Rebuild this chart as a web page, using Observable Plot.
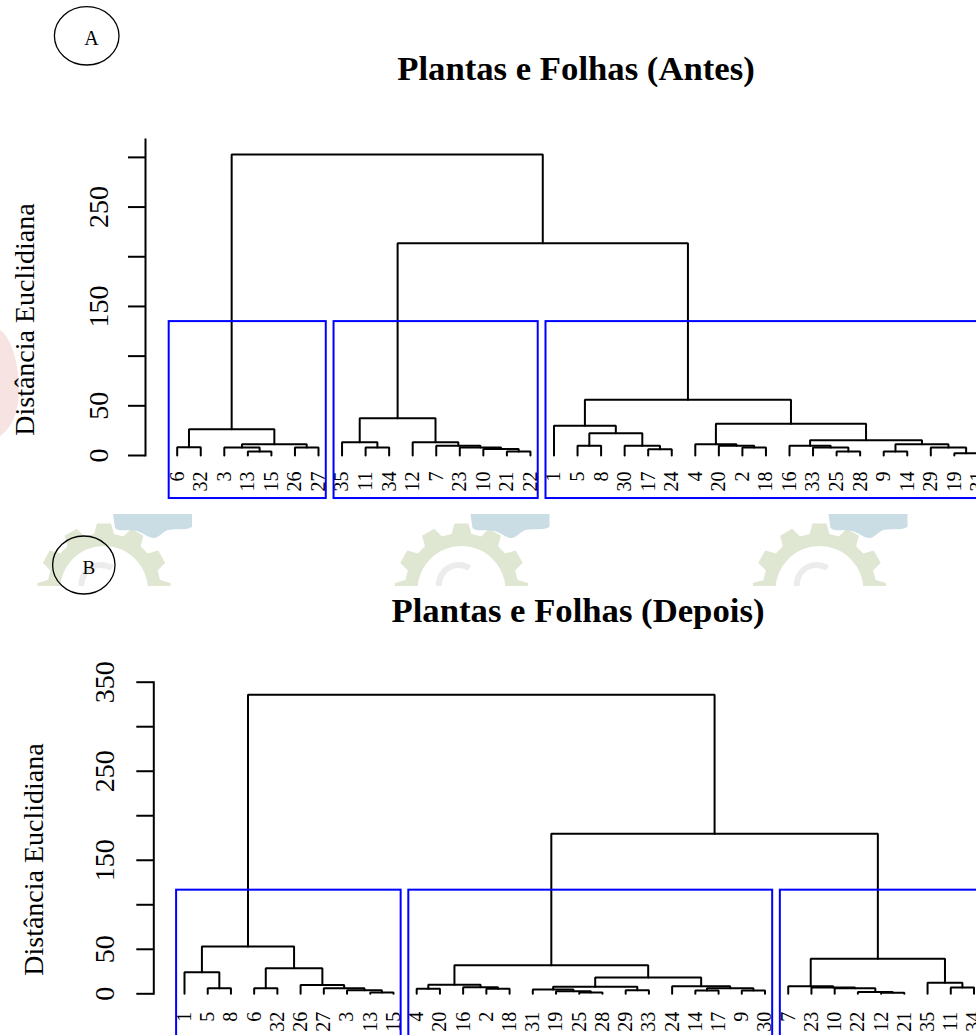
<!DOCTYPE html>
<html>
<head>
<meta charset="utf-8">
<script src="https://cdn.jsdelivr.net/npm/d3@7"></script>
<script src="https://cdn.jsdelivr.net/npm/@observablehq/plot@0.6"></script>
<style>
html, body { margin: 0; padding: 0; background: #ffffff; }
#page { position: relative; width: 976px; height: 1035px; overflow: hidden; font-family: "Liberation Serif", "Times New Roman", serif; color: #000; }
.layer { position: absolute; left: 0; }
</style>
</head>
<body>
<div id="page"></div>
<script>
// ---------------- DATA ----------------
const titleA = "Plantas e Folhas (Antes)";
const titleB = "Plantas e Folhas (Depois)";
const yLabel = "Distância Euclidiana";
const panelTagA = "A";
const panelTagB = "B";

// leaf order (x-axis labels) of each dendrogram
const leafOrderA = [6, 32, 3, 13, 15, 26, 27, 35, 11, 34, 12, 7, 23, 10, 21, 22,
  1, 5, 8, 30, 17, 24, 4, 20, 2, 18, 16, 33, 25, 28, 9, 14, 29, 19, 31];
const leafOrderB = [1, 5, 8, 6, 32, 26, 27, 3, 13, 15, 4, 20, 16, 2, 18, 31, 19, 25, 28, 29, 33,
  24, 14, 17, 9, 30, 7, 23, 10, 22, 12, 21, 35, 11, 34];

// merges (R hclust style): negative = observation, positive = earlier merge row; third = height
const mergesA = [
  [-13, -15, 4.0], [-6, -32, 8.4], [-3, 1, 8.1], [-26, -27, 8.1], [3, 4, 11.4], [2, 5, 26.5],
  [-21, -22, 4.0], [-10, 7, 6.5], [-23, 8, 8.1], [-7, 9, 9.7], [-12, 10, 13.4],
  [-11, -34, 8.1], [-35, 12, 13.4], [13, 11, 37.6],
  [-5, -8, 9.7], [-17, -24, 6.4], [-30, 16, 9.7], [15, 17, 22.5], [-1, 18, 29.9],
  [-2, -18, 8.1], [-20, 20, 9.9], [-4, 21, 11.4],
  [-25, -28, 4.0], [-33, 23, 8.1], [-16, 24, 9.7],
  [-9, -14, 4.0], [-19, -31, 2.3], [-29, 27, 8.1], [26, 28, 11.4], [25, 29, 15.4],
  [22, 30, 31.9], [19, 31, 56.0], [14, 32, 213.5], [6, 33, 303.0]
];
const mergesB = [
  [-5, -8, 6.3], [-1, 1, 24.3], [-6, -32, 6.3], [-13, -15, 1.5], [-3, 4, 3.9], [-27, 5, 6.3],
  [-26, 6, 10.0], [3, 7, 28.8], [2, 8, 53.0],
  [-4, -20, 5.6], [-2, -18, 5.6], [-16, 11, 7.4], [10, 12, 10.1],
  [-25, -28, 1.5], [-19, 14, 3.0], [-31, 15, 4.8], [-29, -33, 4.0], [16, 17, 8.0],
  [-14, -17, 3.7], [-9, -30, 3.7], [19, 20, 6.3], [-24, 21, 8.5], [18, 22, 18.4], [13, 23, 32.2],
  [-12, -21, 1.1], [-22, 25, 1.9], [-10, 26, 6.3], [-23, 27, 7.1], [-7, 28, 8.5],
  [-11, -34, 7.1], [-35, 30, 12.3], [29, 31, 39.3], [24, 32, 179.8], [9, 33, 336.0]
];

// number of clusters boxed (rect.hclust k)
const kClusters = 3;

// y-axis ticks and which ones carry a label
const ticksA = [0, 50, 100, 150, 200, 250, 300];
const tickLabelsA = [0, 50, 150, 250];
const ticksB = [0, 50, 100, 150, 200, 250, 300, 350];
const tickLabelsB = [0, 50, 150, 250, 350];

// ---------------- BUILD ----------------
function dendro(merges, leafOrder, k) {
  const pos = new Map(leafOrder.map((d, i) => [d, i + 1]));
  const nodes = [];
  const pts = [];
  const get = c => c < 0 ? {x: pos.get(-c), h: 0, leaves: [-c]} : nodes[c - 1];
  merges.forEach(([a, b, h], i) => {
    const A = get(a), B = get(b);
    nodes.push({x: (A.x + B.x) / 2, h, leaves: A.leaves.concat(B.leaves), a, b});
    pts.push({id: i, x: A.x, h: A.h}, {id: i, x: A.x, h}, {id: i, x: B.x, h}, {id: i, x: B.x, h: B.h});
  });
  const hs = merges.map(m => m[2]).sort((p, q) => q - p);
  const cut = (hs[k - 2] + hs[k - 1]) / 2;
  const clusters = [];
  const walk = c => {
    if (c < 0) { clusters.push([-c]); return; }
    const N = nodes[c - 1];
    if (N.h < cut) clusters.push(N.leaves); else { walk(N.a); walk(N.b); }
  };
  walk(merges.length);
  const boxes = clusters.map(L => {
    const ps = L.map(l => pos.get(l));
    return {x1: d3.min(ps) - 0.34, x2: d3.max(ps) + 0.33, top: cut};
  });
  return {pts, boxes};
}

function panel(cfg) {
  const {merges, leafOrder, ticks, tickLabels, yMax, boxBottom, height, marginTop, marginBottom,
         marginLeft, xRange, tickPadding, labelDx, labelDy, leafDy} = cfg;
  const {pts, boxes} = dendro(merges, leafOrder, kClusters);
  boxes.forEach(b => b.bottom = boxBottom);
  return Plot.plot({
    width: 976, height, marginTop, marginBottom, marginLeft, marginRight: 0,
    x: {domain: [1, leafOrder.length], range: xRange, axis: null},
    y: {domain: [0, yMax], label: null},
    style: {background: "transparent", fontFamily: "'Liberation Serif', 'Times New Roman', serif", color: "#000", overflow: "visible"},
    marks: [
      Plot.frame({anchor: "left", stroke: "#000", strokeWidth: 2}),
      Plot.axisY({ticks, tickSize: 17, tickRotate: -90, tickPadding,
        tickFormat: d => tickLabels.includes(d) ? String(d) : "",
        fontSize: 28, stroke: "#000", strokeWidth: 2, label: null}),
      Plot.text([yLabel], {frameAnchor: "left", rotate: -90, textAnchor: "middle", lineAnchor: "middle",
        dx: labelDx, dy: labelDy, fontSize: 28, fill: "#000"}),
      Plot.line(pts, {x: "x", y: "h", z: "id", stroke: "#000", strokeWidth: 2, strokeLinejoin: "miter"}),
      Plot.text(leafOrder, {x: (d, i) => i + 1, y: () => 0, text: d => String(d), rotate: -90,
        textAnchor: "end", lineAnchor: "middle", dy: leafDy, fontSize: 20, fill: "#000"}),
      Plot.rect(boxes, {x1: "x1", x2: "x2", y1: "bottom", y2: "top", fill: "none", stroke: "#0000ff", strokeWidth: 2})
    ]
  });
}

const page = document.getElementById("page");

// background decoration (faint watermark)
function gearPath(cx, cy, rOut, rIn, teeth) {
  let p = "";
  for (let k = 0; k < teeth; k++) {
    const c = (90 + k * 360 / teeth) * Math.PI / 180;
    const a0 = c - 10 * Math.PI / 180, a1 = c - 6 * Math.PI / 180, a2 = c + 6 * Math.PI / 180, a3 = c + 10 * Math.PI / 180;
    const P = (r, a) => `${(cx + r * Math.cos(a)).toFixed(1)},${(cy - r * Math.sin(a)).toFixed(1)}`;
    p += (k === 0 ? "M" : "L") + P(rIn, a0) + "L" + P(rOut, a1) + "L" + P(rOut, a2) + "L" + P(rIn, a3);
  }
  return p + "Z";
}
const gearCenters = [104, 461.5, 819.5];
let deco = `<svg class="layer" style="top:0" width="976" height="1035" xmlns="http://www.w3.org/2000/svg">
<defs><clipPath id="band"><rect x="0" y="514" width="976" height="72"/></clipPath></defs>
<path d="M0,330 C12,338 19,365 19,390 C19,412 12,428 0,436 Z" fill="#f8e3e3"/>
<g clip-path="url(#band)">`;
gearCenters.forEach(cx => {
  deco += `<path d="${gearPath(cx, 590, 67, 57, 12)}" fill="#dfe6d1"/>
  <circle cx="${cx}" cy="590" r="44" fill="#ffffff"/>
  <path d="M${cx + 8},568 A20,20 0 1 0 ${cx + 14},596" fill="none" stroke="#ececec" stroke-width="6"/>
  <path d="M${cx + 9},514 H${cx + 88} V527 C${cx + 80},531 ${cx + 72},528 ${cx + 64},530 C${cx + 58},532 ${cx + 55},538 ${cx + 50},538 C${cx + 44},538 ${cx + 40},533 ${cx + 33},531 C${cx + 24},529 ${cx + 15},532 ${cx + 11},528 Z" fill="#cadde4"/>`;
});
deco += `</g></svg>`;
page.insertAdjacentHTML("beforeend", deco);

const plotA = panel({
  merges: mergesA, leafOrder: leafOrderA, ticks: ticksA, tickLabels: tickLabelsA, yMax: 318,
  boxBottom: -43.3, height: 505, marginTop: 139, marginBottom: 50, marginLeft: 145,
  xRange: [176.7, 977.4], tickPadding: 21, labelDx: -120, labelDy: 22, leafDy: 16
});
plotA.classList.add("layer");
plotA.style.top = "0px";
page.appendChild(plotA);

const plotB = panel({
  merges: mergesB, leafOrder: leafOrderB, ticks: ticksB, tickLabels: tickLabelsB, yMax: 350,
  boxBottom: -50, height: 445, marginTop: 91.7, marginBottom: 41.7, marginLeft: 153.3,
  xRange: [184, 973.5], tickPadding: 23, labelDx: -120, labelDy: 21.5, leafDy: 18
});
plotB.classList.add("layer");
plotB.style.top = "590px";
page.appendChild(plotB);

// foreground: titles and panel tags
const fg = `<svg class="layer" style="top:0" width="976" height="1035" xmlns="http://www.w3.org/2000/svg" font-family="'Liberation Serif','Times New Roman',serif">
<ellipse cx="86.7" cy="35.8" rx="32.3" ry="29.2" fill="none" stroke="#000" stroke-width="1.3"/>
<text x="91.5" y="45" font-size="20" text-anchor="middle">${panelTagA}</text>
<text x="576" y="80" font-size="34.7" font-weight="bold" text-anchor="middle">${titleA}</text>
<ellipse cx="83.8" cy="565" rx="31.2" ry="29" fill="none" stroke="#000" stroke-width="1.3"/>
<text x="88.8" y="574" font-size="19" text-anchor="middle">${panelTagB}</text>
<text x="578" y="622" font-size="34.7" font-weight="bold" text-anchor="middle">${titleB}</text>
</svg>`;
page.insertAdjacentHTML("beforeend", fg);
</script>
</body>
</html>
